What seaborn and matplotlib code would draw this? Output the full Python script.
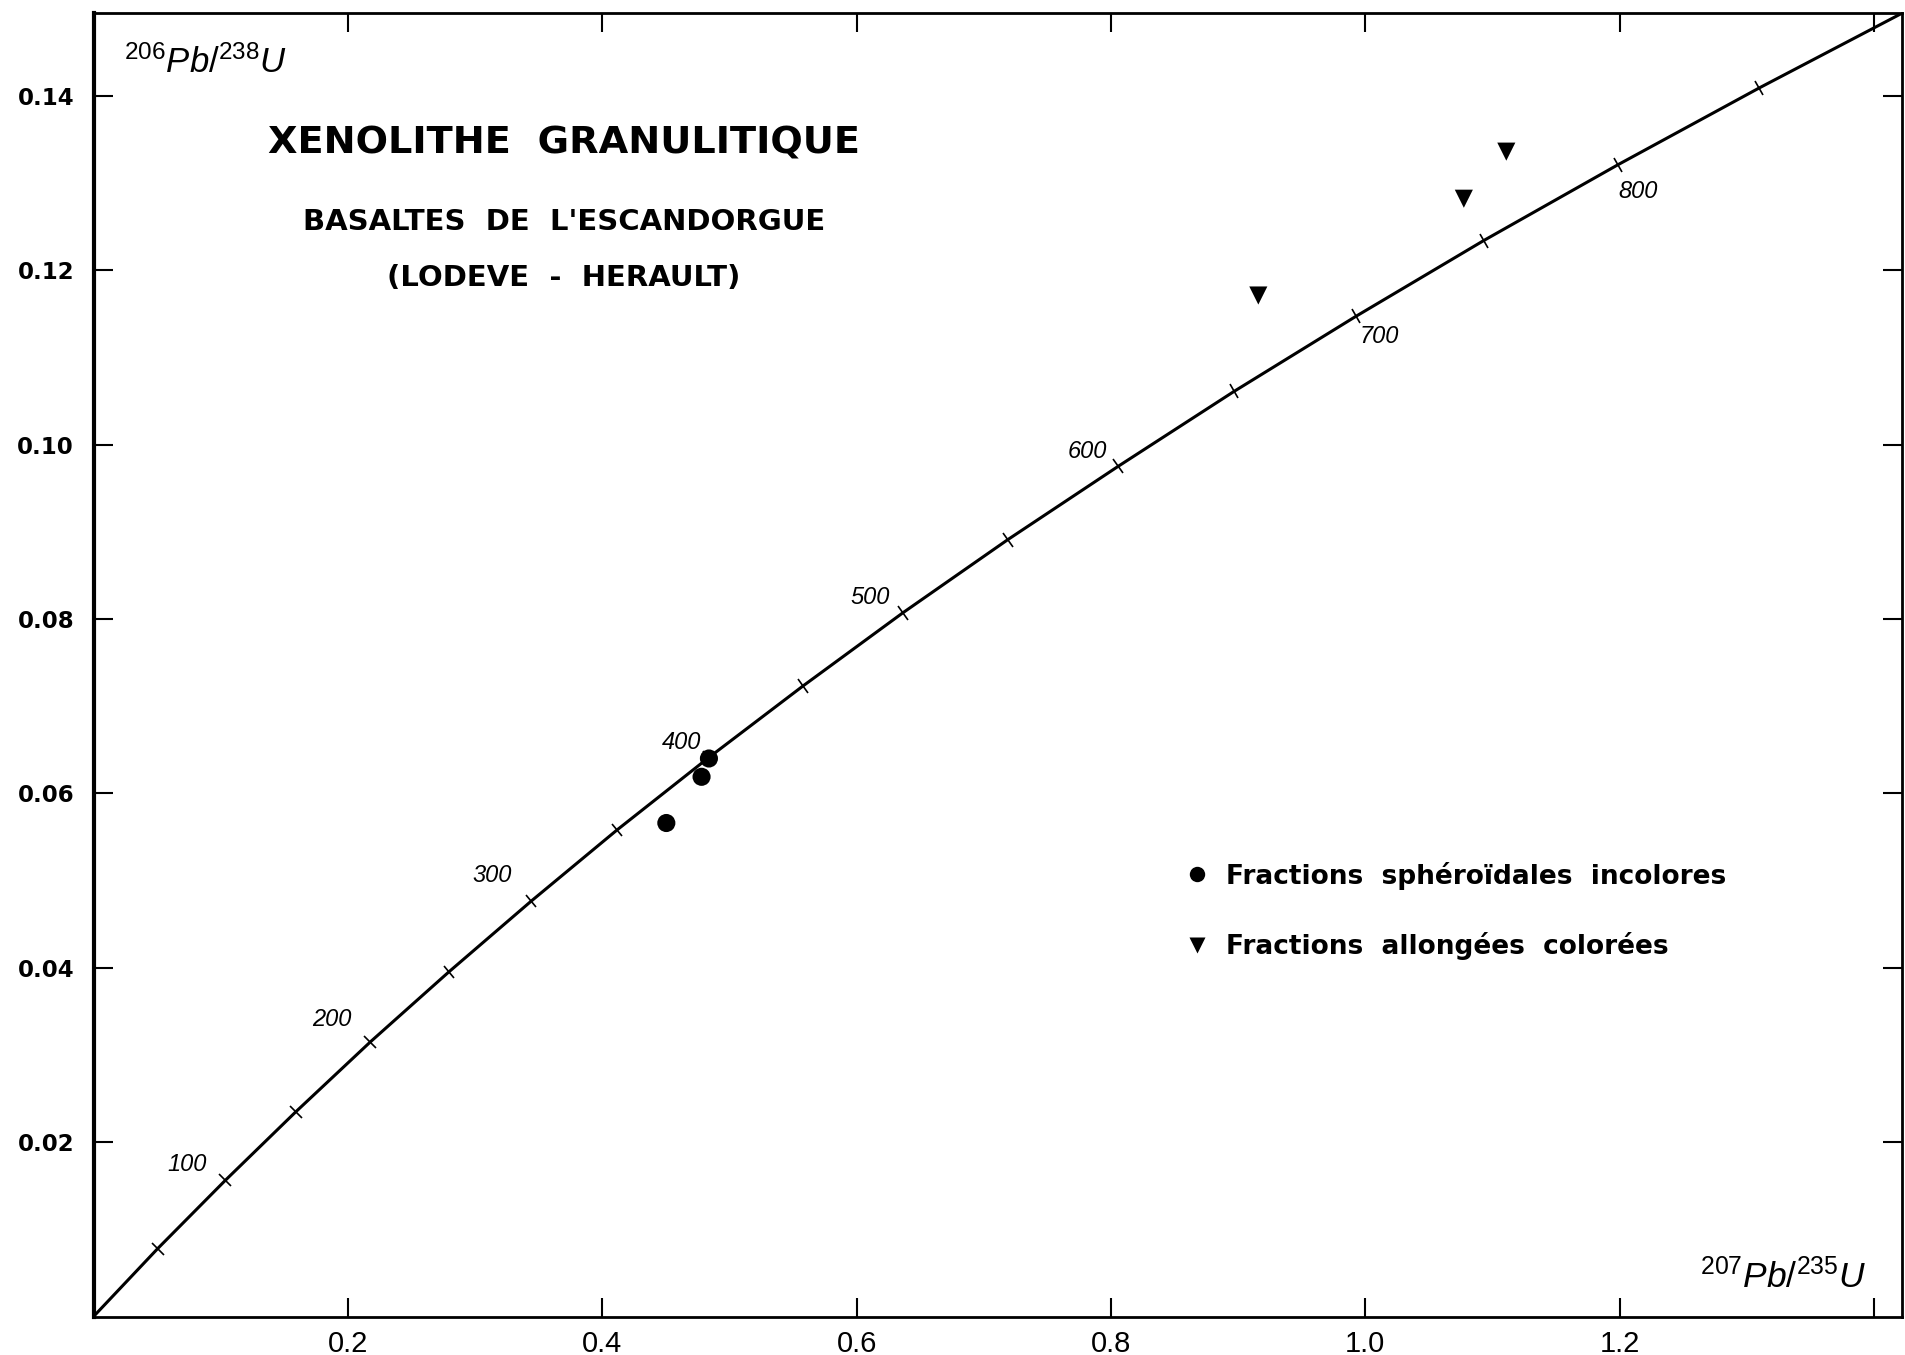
import numpy as np
import pandas as pd
import matplotlib
matplotlib.use("Agg")
import matplotlib.pyplot as plt
from matplotlib.markers import MarkerStyle
from matplotlib.transforms import Affine2D
import seaborn as sns

# Concordia : points tous les 50 Ma
ages = [0, 50, 100, 150, 200, 250, 300, 350, 400, 450,
        500, 550, 600, 650, 700, 750, 800, 850, 900]
pb207_u235 = [0.0, 0.0505, 0.1035, 0.1592, 0.2177, 0.2792, 0.3438, 0.4116, 0.4828, 0.5577,
              0.6363, 0.7189, 0.8056, 0.8968, 0.9925, 1.0931, 1.1987, 1.3097, 1.4263]
pb206_u238 = [0.0, 0.0078, 0.0156, 0.0235, 0.0315, 0.0395, 0.0476, 0.0558, 0.0640, 0.0723,
              0.0807, 0.0891, 0.0975, 0.1061, 0.1147, 0.1234, 0.1321, 0.1409, 0.1498]
labelled_ages = [100, 200, 300, 400, 500, 600, 700, 800]

# Fractions de zircons
sph_x = [0.4504, 0.4781, 0.4839]
sph_y = [0.0566, 0.0619, 0.0640]
all_x = [0.9159, 1.0775, 1.1109]
all_y = [0.1171, 0.1282, 0.1336]
lab_sph = "Fractions  sphéroïdales  incolores"
lab_all = "Fractions  allongées  colorées"

x_ticks = [0.2, 0.4, 0.6, 0.8, 1.0, 1.2, 1.4]
x_ticklabels = ["0.2", "0.4", "0.6", "0.8", "1.0", "1.2", ""]
y_ticks = [0.02, 0.04, 0.06, 0.08, 0.10, 0.12, 0.14]
y_ticklabels = ["0.02", "0.04", "0.06", "0.08", "0.10", "0.12", "0.14"]

sns.set_theme(style="white")
plt.rcParams["font.family"] = ["Liberation Sans", "DejaVu Sans"]
plt.rcParams["text.color"] = "black"
plt.rcParams["xtick.color"] = "black"
plt.rcParams["ytick.color"] = "black"
plt.rcParams["mathtext.fontset"] = "custom"
plt.rcParams["mathtext.it"] = "Liberation Sans:italic"
plt.rcParams["mathtext.rm"] = "Liberation Sans"

wide = ["DejaVu Sans", "Liberation Sans"]
narrow = ["Liberation Sans Narrow", "Liberation Sans"]

fig = plt.figure(figsize=(19.05, 13.55), dpi=100)
ax = fig.add_axes([0.0491, 0.0284, 0.9493, 0.962])
ax.set_xlim(0, 1.422)
ax.set_ylim(0, 0.1495)

conc = pd.DataFrame({"age": ages, "x": pb207_u235, "y": pb206_u238})
sns.lineplot(data=conc, x="x", y="y", sort=False, color="black", linewidth=2.2, ax=ax)

# petits traits perpendiculaires tous les 50 Ma
disp = ax.transData.transform(np.column_stack([pb207_u235, pb206_u238]))
for i in range(1, len(ages) - 1):
    dx = disp[i + 1, 0] - disp[i - 1, 0]
    dy = disp[i + 1, 1] - disp[i - 1, 1]
    ang = np.degrees(np.arctan2(dy, dx))
    m = MarkerStyle("|", transform=Affine2D().rotate_deg(ang))
    ax.plot(pb207_u235[i], pb206_u238[i], marker=m, markersize=12,
            markeredgewidth=1.2, color="black", linestyle="none")

# étiquettes d'âge
offsets = {100: (-38, 16), 200: (-39, 22), 300: (-39, 26), 400: (-26, 16),
           500: (-33, 15), 600: (-31, 15), 700: (23, -20), 800: (20, -27)}
for a in labelled_ages:
    i = ages.index(a)
    ax.annotate(str(a), (pb207_u235[i], pb206_u238[i]), xytext=offsets[a],
                textcoords="offset pixels", ha="center", va="center",
                fontsize=17, style="italic", color="black")

pts = pd.DataFrame({
    "x": sph_x + all_x,
    "y": sph_y + all_y,
    "fraction": [lab_sph] * len(sph_x) + [lab_all] * len(all_x),
})
sns.scatterplot(data=pts, x="x", y="y", style="fraction",
                markers={lab_sph: "o", lab_all: "v"}, color="black",
                s=170, edgecolor="none", ax=ax, legend=True)

leg = ax.legend(loc="upper left", bbox_to_anchor=(0.590, 0.357), frameon=False,
                prop={"size": 19, "weight": "bold", "family": wide}, labelspacing=1.6,
                handletextpad=0.1, markerscale=0.85, borderaxespad=0)

# ticks et cadre
ax.set_xticks(x_ticks)
ax.set_xticklabels(x_ticklabels, fontsize=21, family=narrow)
ax.set_yticks(y_ticks)
ax.set_yticklabels(y_ticklabels, fontsize=16.5, fontweight="bold", family=wide)
ax.tick_params(axis="both", direction="in", length=14, width=1.5, color="black",
               top=True, right=True, bottom=True, left=True)
ax.tick_params(axis="x", pad=10)
ax.tick_params(axis="y", pad=14)
ax.set_xlabel("")
ax.set_ylabel("")
for side, sp in ax.spines.items():
    sp.set_visible(True)
    sp.set_color("black")
    sp.set_linewidth(2.0)
ax.spines["left"].set_linewidth(3.0)

# titres des axes
ax.text(0.017, 0.962, r"$^{206}Pb/^{238}U$", transform=ax.transAxes,
        fontsize=25, ha="left", va="center")
ax.text(0.98, 0.031, r"$^{207}Pb/^{235}U$", transform=ax.transAxes,
        fontsize=25.5, ha="right", va="center")

# titre
ax.text(0.26, 0.9, "XENOLITHE  GRANULITIQUE", transform=ax.transAxes,
        fontsize=27.5, fontweight="bold", ha="center", va="center", family=wide)
ax.text(0.26, 0.84, "BASALTES  DE  L'ESCANDORGUE", transform=ax.transAxes,
        fontsize=21, fontweight="bold", ha="center", va="center", family=wide)
ax.text(0.26, 0.797, "(LODEVE  -  HERAULT)", transform=ax.transAxes,
        fontsize=21, fontweight="bold", ha="center", va="center", family=wide)

fig.savefig("out.png", dpi=100)
